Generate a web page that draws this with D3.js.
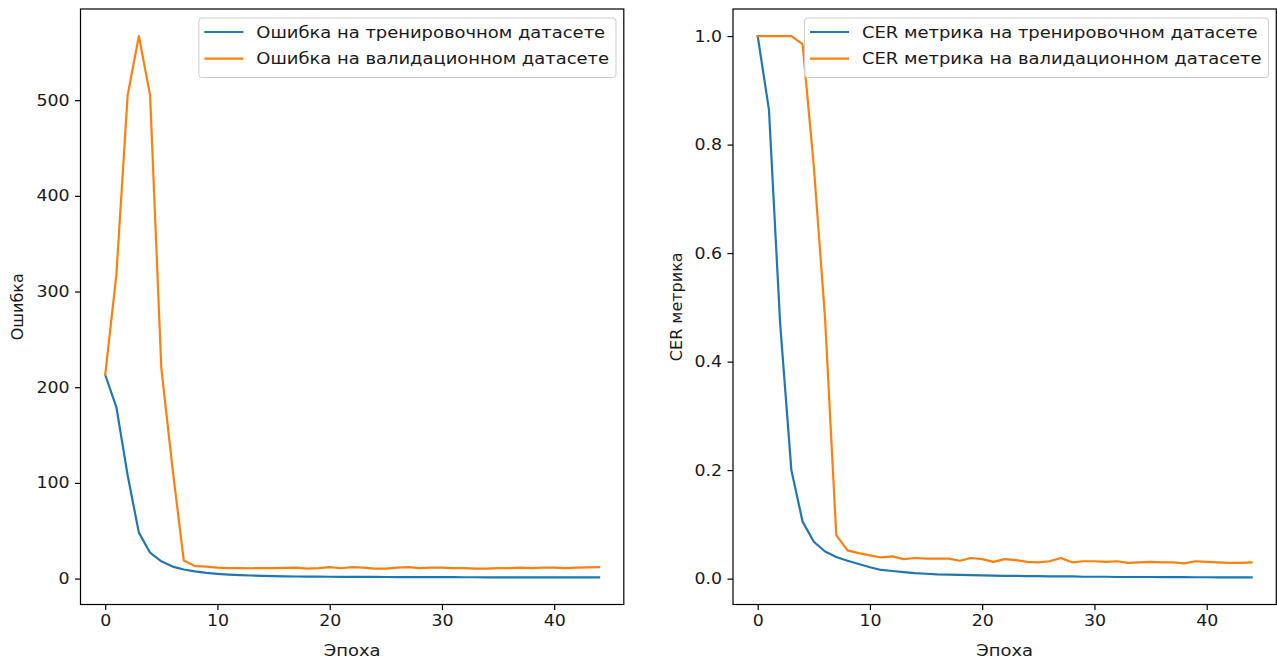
<!DOCTYPE html>
<html>
<head>
<meta charset="utf-8">
<script src="https://cdn.jsdelivr.net/npm/d3@7"></script>
<style>
  body { margin: 0; background: #fff; }
  svg text { font-family: "DejaVu Sans", sans-serif; fill: #1a1a1a; }
</style>
</head>
<body>
<svg id="fig" width="1277" height="661"></svg>
<script>
// values
var epochs = d3.range(0, 45);
var lossTrain = [213, 179, 108, 48, 27, 18, 12.5, 9.5, 7.5, 6, 5, 4.2, 3.6, 3.2, 2.9, 2.6, 2.4, 2.2, 2.1, 2,
  1.9, 1.85, 1.8, 1.75, 1.7, 1.65, 1.6, 1.55, 1.5, 1.5, 1.45, 1.45, 1.4, 1.4, 1.35, 1.35, 1.3, 1.3, 1.3, 1.25,
  1.25, 1.25, 1.2, 1.2, 1.2];
var lossVal = [213, 318, 505, 567, 505, 220, 115, 19, 13, 12.5, 11.5, 11, 11, 10.8, 11, 11, 11.2, 11.5, 10.5, 11,
  12, 10.8, 12, 11.5, 10.5, 10.5, 11.5, 12, 11, 11.5, 11.5, 11, 11, 10.5, 10.5, 11, 11, 11.5, 11, 11.5,
  11.5, 11, 11.5, 11.8, 12];
var cerTrain = [1.0, 0.865, 0.47, 0.2, 0.105, 0.068, 0.05, 0.04, 0.033, 0.027, 0.021, 0.016, 0.014, 0.012, 0.010,
  0.009, 0.008, 0.0075, 0.007, 0.0065, 0.006, 0.0055, 0.005, 0.005, 0.0045, 0.0045, 0.004, 0.004, 0.004, 0.0035,
  0.0035, 0.0035, 0.003, 0.003, 0.003, 0.003, 0.0028, 0.0027, 0.0026, 0.0025, 0.0025, 0.0024, 0.0023, 0.0022, 0.0022];
var cerVal = [1.0, 1.0, 1.0, 1.0, 0.985, 0.76, 0.48, 0.08, 0.052, 0.047, 0.043, 0.039, 0.041, 0.036, 0.038,
  0.037, 0.037, 0.037, 0.033, 0.038, 0.036, 0.031, 0.036, 0.034, 0.031, 0.030, 0.032, 0.038, 0.030, 0.032,
  0.032, 0.031, 0.032, 0.029, 0.030, 0.031, 0.030, 0.030, 0.028, 0.032, 0.031, 0.030, 0.029, 0.029, 0.030];
var xTicks = [0, 10, 20, 30, 40];
var lossTicks = [0, 100, 200, 300, 400, 500];
var cerTicks = [0, 0.2, 0.4, 0.6, 0.8, 1.0];

var fs = 16;
var widen = 1.12; // picture is a bit stretched sideways
var colors = ["#1f77b4", "#ff7f0e"];
var svg = d3.select("#fig");

// pad a domain by 5% like matplotlib does
function padded(arr) {
  var ext = d3.extent(arr);
  var m = (ext[1] - ext[0]) * 0.05;
  return [ext[0] - m, ext[1] + m];
}

function stretch(sel) {
  sel.each(function() {
    var w = this.getComputedTextLength();
    d3.select(this).attr("textLength", w * widen).attr("lengthAdjust", "spacingAndGlyphs");
  });
}

function drawPanel(opt) {
  var g = svg.append("g");
  var x = d3.scaleLinear().domain(padded(epochs)).range([opt.x0, opt.x1]);
  var y = d3.scaleLinear().domain(padded(opt.series[0].concat(opt.series[1]))).range([opt.y1, opt.y0]);

  var line = d3.line()
    .x(function(d, i) { return x(epochs[i]); })
    .y(function(d) { return y(d); });

  opt.series.forEach(function(s, k) {
    g.append("path")
      .datum(s)
      .attr("d", line)
      .attr("fill", "none")
      .attr("stroke", colors[k])
      .attr("stroke-width", 2.2)
      .attr("stroke-linejoin", "round")
      .attr("stroke-linecap", "square");
  });

  var xa = g.append("g")
    .attr("transform", "translate(0," + opt.y1 + ")")
    .call(d3.axisBottom(x).tickValues(xTicks).tickSize(5.5).tickPadding(5.2).tickSizeOuter(0));
  var ya = g.append("g")
    .attr("transform", "translate(" + opt.x0 + ",0)")
    .call(d3.axisLeft(y).tickValues(opt.yTicks).tickFormat(opt.fmt).tickSize(5.5).tickPadding(5.4).tickSizeOuter(0));
  [xa, ya].forEach(function(a) {
    a.select(".domain").remove();
    a.selectAll("line").attr("stroke", "#000").attr("stroke-width", 1.2);
    a.selectAll("text").style("font-size", "15.5px").attr("fill", "#1a1a1a").call(stretch);
  });

  g.append("rect")
    .attr("x", opt.x0).attr("y", opt.y0)
    .attr("width", opt.x1 - opt.x0).attr("height", opt.y1 - opt.y0)
    .attr("fill", "none").attr("stroke", "#000").attr("stroke-width", 1.2);

  g.append("text")
    .attr("x", (opt.x0 + opt.x1) / 2).attr("y", 656)
    .attr("text-anchor", "middle")
    .style("font-size", fs + "px")
    .text("Эпоха")
    .call(stretch);

  g.append("text")
    .attr("transform", "translate(" + opt.ylabX + "," + (opt.y0 + opt.y1) / 2 + ") rotate(-90)")
    .attr("text-anchor", "middle")
    .attr("dy", "0.35em")
    .style("font-size", fs + "px")
    .text(opt.ylabel);

  // legend, upper right
  var lg = g.append("g");
  var box = lg.append("rect");
  var texts = opt.labels.map(function(t, k) {
    return lg.append("text")
      .attr("y", opt.y0 + 23 + k * 26.7)
      .attr("dy", "0.35em")
      .style("font-size", fs + "px")
      .text(t)
      .call(stretch);
  });
  var tw = d3.max(texts, function(t) { return +t.attr("textLength"); });
  var bw = 5.5 + 39 + 13 + tw + 7;
  var bx = opt.x1 - 7.8 - bw;
  box.attr("x", bx).attr("y", opt.y0 + 9)
    .attr("width", bw).attr("height", 59.5)
    .attr("rx", 3)
    .attr("fill", "#fff").attr("fill-opacity", 0.8)
    .attr("stroke", "#cccccc").attr("stroke-width", 1);
  texts.forEach(function(t, k) {
    t.attr("x", bx + 5.5 + 39 + 13);
    lg.append("line")
      .attr("x1", bx + 5.5).attr("x2", bx + 5.5 + 39)
      .attr("y1", opt.y0 + 23 + k * 26.7).attr("y2", opt.y0 + 23 + k * 26.7)
      .attr("stroke", colors[k]).attr("stroke-width", 2.2);
  });
}

drawPanel({
  x0: 80.5, x1: 623.8, y0: 9, y1: 604.5,
  series: [lossTrain, lossVal],
  yTicks: lossTicks, fmt: d3.format("d"),
  ylabel: "Ошибка", ylabX: 17,
  labels: ["Ошибка на тренировочном датасете", "Ошибка на валидационном датасете"]
});

drawPanel({
  x0: 733, x1: 1276.3, y0: 9, y1: 604.5,
  series: [cerTrain, cerVal],
  yTicks: cerTicks, fmt: d3.format(".1f"),
  ylabel: "CER метрика", ylabX: 676,
  labels: ["CER метрика на тренировочном датасете", "CER метрика на валидационном датасете"]
});
</script>
</body>
</html>
